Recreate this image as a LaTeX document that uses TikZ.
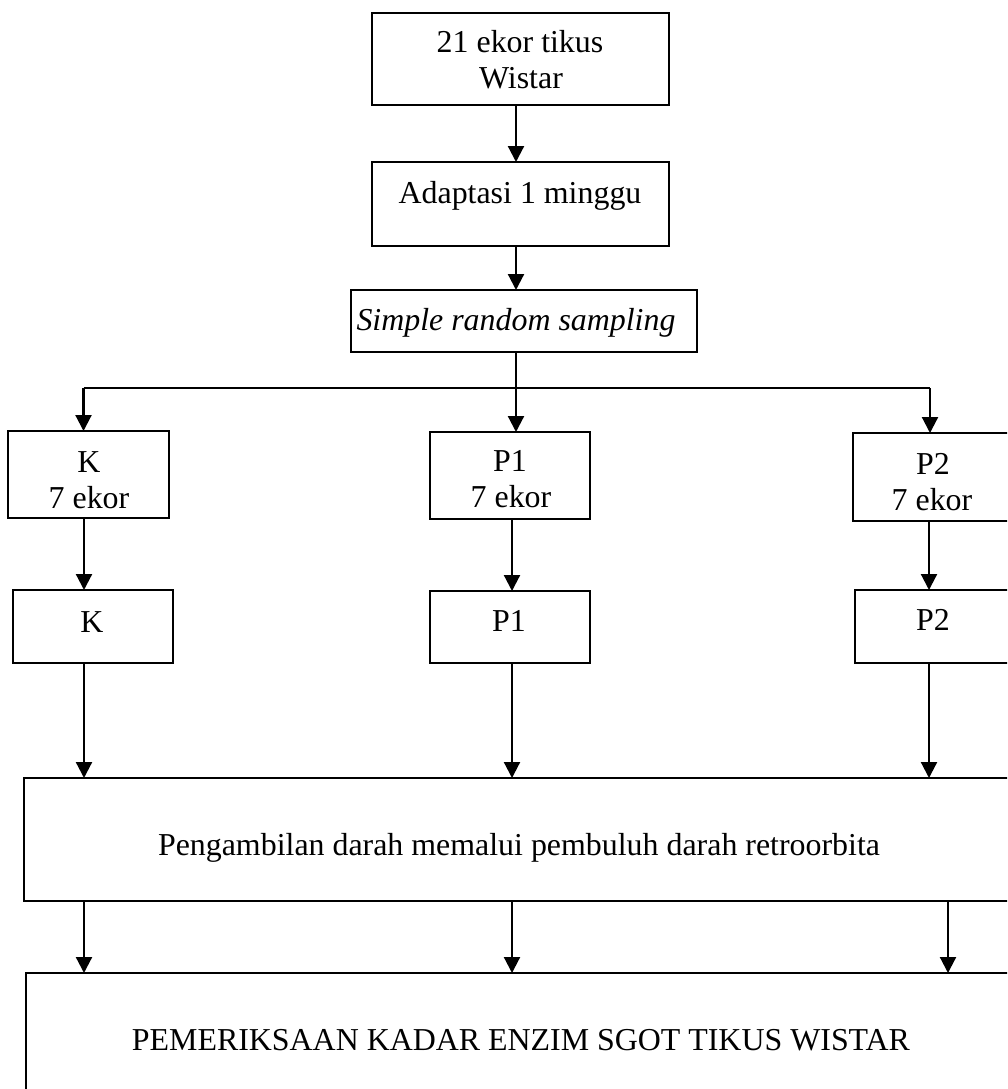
\documentclass[tikz,border=0pt]{standalone}
\usepackage{fontspec}
\setmainfont{Liberation Serif}
\usetikzlibrary{arrows.meta}
\begin{document}
\begin{tikzpicture}[x=1pt,y=-1pt,
  box/.style={draw, line width=2.2pt, inner sep=0pt, outer sep=0pt},
  lbl/.style={inner sep=0pt, anchor=base, font=\fontsize{31.9}{36}\selectfont},
  arr/.style={line width=2.2pt, -{Triangle[width=16pt,length=16pt]}},
  ln/.style={line width=2.2pt}]
\useasboundingbox (0,0) rectangle (1007,1089);
\fill[white] (0,0) rectangle (1007,1089);
\clip (0,0) rectangle (1007,1089);
% boxes
\node[box, minimum width=297pt, minimum height=92pt] (b1) at (520.5,59) {};
\node[box, minimum width=297pt, minimum height=84pt] (b2) at (520.5,204) {};
\node[box, minimum width=346pt, minimum height=62pt] (b3) at (524,321) {};
\node[box, minimum width=161pt, minimum height=87pt] (k1) at (88.5,474.5) {};
\node[box, minimum width=160pt, minimum height=87pt] (p1) at (510,475.5) {};
\node[box, minimum width=167pt, minimum height=88pt] (q1) at (936.5,477) {};
\node[box, minimum width=160pt, minimum height=73pt] (k2) at (93,626.5) {};
\node[box, minimum width=160pt, minimum height=72pt] (p2) at (510,627) {};
\node[box, minimum width=165pt, minimum height=73pt] (q2) at (937.5,626.5) {};
\node[box, minimum width=1006pt, minimum height=123pt] (r) at (527,839.5) {};
\node[box, minimum width=1004pt, minimum height=147pt] (s) at (528,1046.5) {};
% labels
\node[lbl] (b1a) at (520,53) {21 ekor tikus};
\node[lbl] (b1b) at (521,89) {Wistar};
\node[lbl] (b2t) at (520,203) {Adaptasi 1 minggu};
\node[lbl] (b3t) at (516,330) {\itshape Simple random sampling};
\node[lbl] (k1a) at (89,472) {K};
\node[lbl] (k1b) at (89,508) {7 ekor};
\node[lbl] (p1a) at (510,471) {P1};
\node[lbl] (p1b) at (511,507) {7 ekor};
\node[lbl] (q1a) at (933,474) {P2};
\node[lbl] (q1b) at (932,510) {7 ekor};
\node[lbl] (k2t) at (92,632) {K};
\node[lbl] (p2t) at (509,631) {P1};
\node[lbl] (q2t) at (933,630) {P2};
\node[lbl] (rt) at (519,855) {Pengambilan darah memalui pembuluh darah retroorbita};
\node[lbl] (st) at (521,1050) {PEMERIKSAAN KADAR ENZIM SGOT TIKUS WISTAR};
% column coordinates
\coordinate (xm) at (516,0);
\coordinate (xk) at (84,0);
\coordinate (xp) at (512,0);
\coordinate (xq) at (929,0);
\coordinate (xq2) at (948,0);
\coordinate (sm) at (516,388);
\coordinate (sl) at (83.5,388);
\coordinate (sr) at (930,388);
% connectors
\draw[arr] (b1.south -| xm) -- (b2.north -| xm);
\draw[arr] (b2.south -| xm) -- (b3.north -| xm);
\draw[ln] (b3.south -| xm) -- (sm);
\draw[ln] (sl) -- (sr);
\draw[arr] (sl) -- (k1.north -| sl);
\draw[arr] (sm) -- (p1.north -| sm);
\draw[arr] (sr) -- (q1.north -| sr);
\draw[arr] (k1.south -| xk) -- (k2.north -| xk);
\draw[arr] (p1.south -| xp) -- (p2.north -| xp);
\draw[arr] (q1.south -| xq) -- (q2.north -| xq);
\draw[arr] (k2.south -| xk) -- (r.north -| xk);
\draw[arr] (p2.south -| xp) -- (r.north -| xp);
\draw[arr] (q2.south -| xq) -- (r.north -| xq);
\draw[arr] (r.south -| xk) -- (s.north -| xk);
\draw[arr] (r.south -| xp) -- (s.north -| xp);
\draw[arr] (r.south -| xq2) -- (s.north -| xq2);
\end{tikzpicture}
\end{document}
